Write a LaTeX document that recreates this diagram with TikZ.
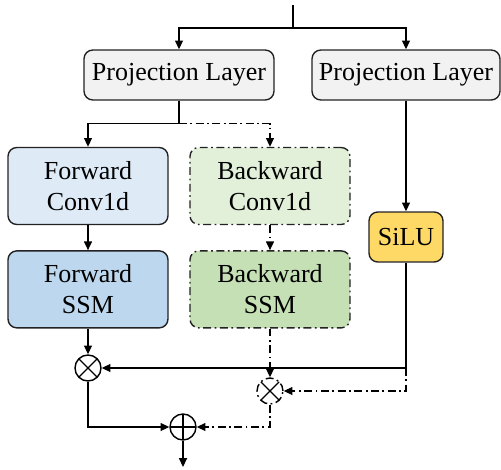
\documentclass[tikz,border=0pt]{standalone}
\usepackage{fontspec}
\setmainfont{Liberation Serif}
\usepackage{tikz}
\usetikzlibrary{arrows.meta,positioning,calc}

\definecolor{projgray}{HTML}{F2F2F2}
\definecolor{fwdlight}{HTML}{DEEBF7}
\definecolor{fwddark}{HTML}{BDD7EE}
\definecolor{bwdlight}{HTML}{E2F0D9}
\definecolor{bwddark}{HTML}{C5E0B4}
\definecolor{siluyellow}{HTML}{FFD966}
\definecolor{edgegray}{HTML}{222222}

\begin{document}
\begin{tikzpicture}[
    x=0.02cm, y=-0.02cm,
    font=\fontsize{14.8}{17.5}\selectfont,
    block/.style={rectangle, draw=edgegray, line width=0.8pt, rounded corners=5pt, text centered, align=center, minimum width=3.2cm, minimum height=1.54cm},
    proj/.style={block, fill=projgray, minimum width=3.8cm, minimum height=1cm},
    fwd/.style={block},
    bwd/.style={block, dashdot},
    silubox/.style={block, fill=siluyellow, minimum width=1.48cm, minimum height=1cm},
    dashdot/.style={dash pattern=on 4.5pt off 2pt on 1pt off 2pt},
    opcirc/.style={circle, draw=black, line width=0.8pt, minimum size=0.52cm, inner sep=0pt},
    mul/.style={opcirc, path picture={\draw[solid, line width=0.8pt] (path picture bounding box.south west) -- (path picture bounding box.north east) (path picture bounding box.north west) -- (path picture bounding box.south east);}},
    add/.style={opcirc, path picture={\draw[solid, line width=0.8pt] (path picture bounding box.north) -- (path picture bounding box.south) (path picture bounding box.west) -- (path picture bounding box.east);}},
    arrow/.style={-{Triangle[length=5pt,width=4.5pt]}, line width=0.8pt},
    dasharrow/.style={arrow, dashdot}
]
    \useasboundingbox (0,0) rectangle (501,470);

    \coordinate (in) at (293,5);
    \coordinate (split) at (293,28);

    \node[proj] (proj1) at (179,75) {Projection Layer};
    \node[proj, minimum width=3.76cm] (proj2) at (406,75) {Projection Layer};

    \node[fwd, fill=fwdlight] (fconv) at (88,186) {Forward\\Conv1d};
    \node[fwd, fill=fwddark, below=0.5cm of fconv] (fssm) {Forward\\SSM};
    \node[bwd, fill=bwdlight] (bconv) at (270,186) {Backward\\Conv1d};
    \node[bwd, fill=bwddark, below=0.5cm of bconv] (bssm) {Backward\\SSM};
    \node[silubox] (silu) at (406,237) {SiLU};

    \node[mul] (mul1) at (88,368) {};
    \node[mul, dashdot] (mul2) at (270,391) {};
    \node[add] (sum) at (183,427) {};
    \coordinate (out) at (183,467);

    \draw[line width=0.8pt] (in) -- (split);
    \draw[arrow] (split) -| (proj1);
    \draw[arrow] (split) -| (proj2);

    \draw[arrow] (proj1.south) -- ++(0,23) -| (fconv);
    \draw[dasharrow] (proj1.south) ++(0,23) -| (bconv);

    \draw[arrow] (fconv) -- (fssm);
    \draw[dasharrow] (bconv) -- (bssm);
    \draw[arrow] (proj2) -- (silu);

    \draw[arrow] (fssm) -- (mul1);
    \draw[dasharrow] (bssm) -- (mul2);
    \draw[arrow] (silu.south) |- (mul1);
    \draw[dasharrow] (silu.south |- mul1) |- (mul2);

    \draw[arrow] (mul1) |- (sum);
    \draw[dasharrow] (mul2) |- (sum);
    \draw[arrow] (sum) -- (out);
\end{tikzpicture}
\end{document}
